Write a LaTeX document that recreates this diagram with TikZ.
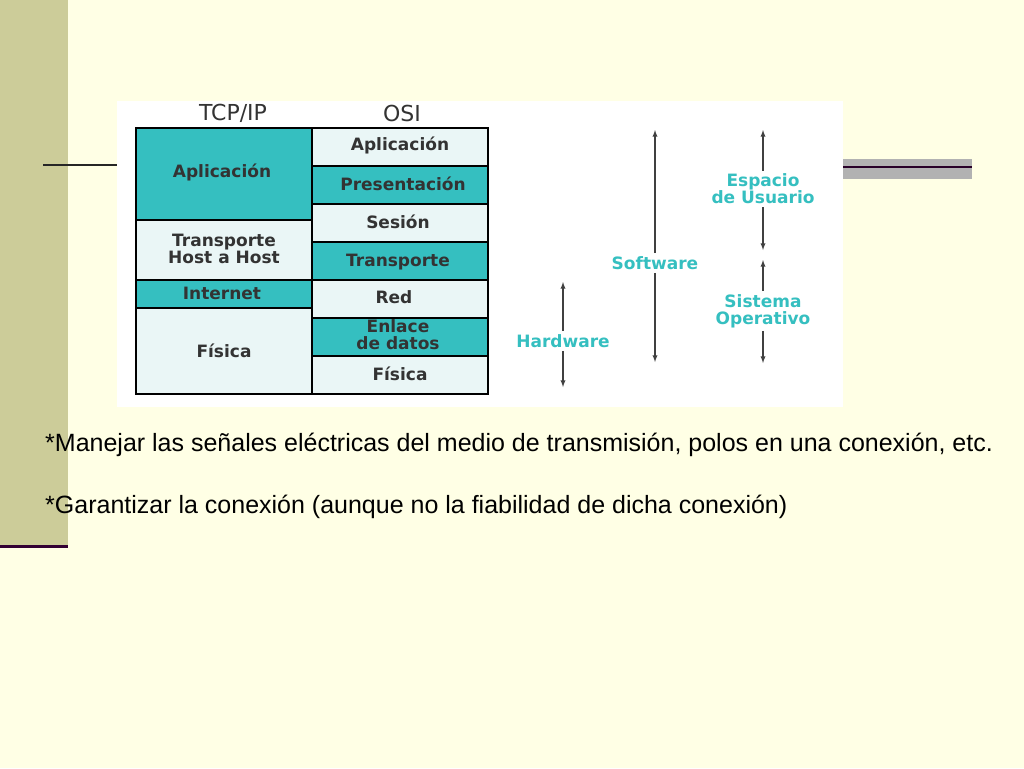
\documentclass[tikz,border=0pt]{standalone}
\usepackage{fontspec}
\setmainfont{Liberation Sans}
\newfontfamily\vfont{DejaVu Sans}
\begin{document}
\begin{tikzpicture}[x=1pt,y=-1pt,
  teal/.style={fill=tealc,draw=black,line width=1.6pt},
  lite/.style={fill=litec,draw=black,line width=1.6pt},
  lbl/.style={font=\vfont\bfseries\fontsize{17}{17}\selectfont,text=black!80,align=center,inner sep=1pt},
  clbl/.style={font=\vfont\bfseries\fontsize{17}{17}\selectfont,text=tealc,align=center,fill=white,inner sep=3pt},
  arr/.style={draw=black!75,line width=1.3pt,-latex},
  body/.style={font=\fontsize{25}{30}\selectfont,anchor=west,inner sep=0pt}]
\definecolor{tealc}{HTML}{35BFC0}
\definecolor{litec}{HTML}{EAF6F6}
\definecolor{bg}{HTML}{FFFFE5}
\fill[bg] (0,0) rectangle (1024,768);
\useasboundingbox (0,0) rectangle (1024,768);
\fill[fill={rgb,255:red,204;green,204;blue,153}] (0,0) rectangle (68,546);
\draw[line width=3pt,color={rgb,255:red,51;green,0;blue,51}] (0,546) -- (68,546);
\draw[line width=1.5pt,black!85] (43,165) -- (117,165);
\fill[black!30] (843,159) rectangle (972,179);
\draw[line width=1.5pt,color={rgb,255:red,40;green,0;blue,40}] (843,167) -- (972,167);
\fill[white] (117,101) rectangle (843,407);
% headers
\node[font=\vfont\fontsize{22}{24}\selectfont,text=black!80] (h1) at (233,113) {TCP/IP};
\node[font=\vfont\fontsize{22}{24}\selectfont,text=black!80] (h2) at (402,113) {OSI};
% TCP/IP column
\draw[teal] (136,128) rectangle (312,220); \node[lbl] (t1) at (222,172) {Aplicación};
\draw[lite] (136,220) rectangle (312,280); \node[lbl] (t2) at (224,249) {Transporte\\Host a Host};
\draw[teal] (136,280) rectangle (312,308); \node[lbl] (t3) at (222,293) {Internet};
\draw[lite] (136,308) rectangle (312,394); \node[lbl] (t4) at (224,351) {Física};
% OSI column
\draw[lite] (312,128) rectangle (488,166); \node[lbl] (o1) at (400,145) {Aplicación};
\draw[teal] (312,166) rectangle (488,204); \node[lbl] (o2) at (403,184) {Presentación};
\draw[lite] (312,204) rectangle (488,242); \node[lbl] (o3) at (398,222) {Sesión};
\draw[teal] (312,242) rectangle (488,280); \node[lbl] (o4) at (398,262) {Transporte};
\draw[lite] (312,280) rectangle (488,318); \node[lbl] (o5) at (394,297) {Red};
\draw[teal] (312,318) rectangle (488,356); \node[lbl] (o6) at (398,335) {Enlace\\de datos};
\draw[lite] (312,356) rectangle (488,394); \node[lbl] (o7) at (400,374) {Física};
% arrows
\coordinate (swt) at (655,130); \coordinate (swb) at (655,362);
\node[clbl] (sw) at (655,263) {Software};
\draw[arr] (sw) -- (swt); \draw[arr] (sw) -- (swb);
\coordinate (eut) at (763,130); \coordinate (eub) at (763,250);
\node[clbl] (eu) at (763,189) {Espacio\\de Usuario};
\draw[arr] (eu) -- (eut); \draw[arr] (eu) -- (eub);
\coordinate (sot) at (763,260); \coordinate (sob) at (763,363);
\node[clbl] (so) at (763,311) {Sistema\\Operativo};
\draw[arr] (so) -- (sot); \draw[arr] (so) -- (sob);
\coordinate (hwt) at (563,282); \coordinate (hwb) at (563,387);
\node[clbl] (hw) at (563,341) {Hardware};
\draw[arr] (hw) -- (hwt); \draw[arr] (hw) -- (hwb);
% body text
\node[body] (b1) at (45,445) {*Manejar las señales eléctricas del medio de transmisión, polos en una conexión, etc.};
\node[body] (b2) at (45,507) {*Garantizar la conexión (aunque no la fiabilidad de dicha conexión)};
\end{tikzpicture}
\end{document}
